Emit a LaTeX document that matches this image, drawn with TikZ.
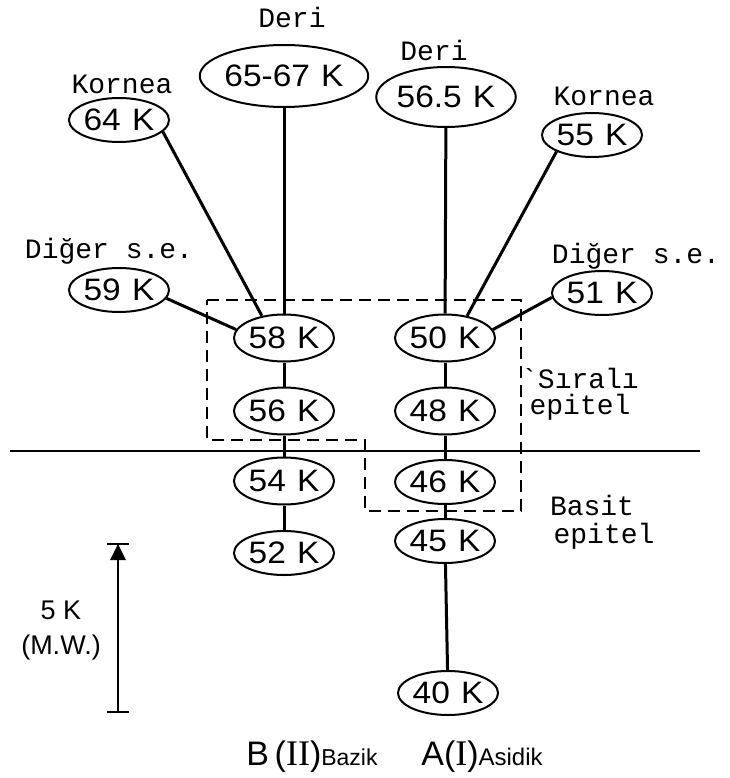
\documentclass[tikz,border=0pt]{standalone}
\usepackage{fontspec}
\setmainfont{Liberation Sans}
\newfontfamily\bandfont[FakeStretch=1.08, WordSpace=1.2]{Liberation Sans}
\newfontfamily\typefont{Liberation Mono}
\newfontfamily\romfont{Liberation Serif}
\usepackage{tikz}
\usetikzlibrary{positioning}
\usetikzlibrary{shapes.geometric, arrows.meta}
\tikzstyle{band} = [ellipse, draw=black, line width=2pt, inner sep=0pt, minimum width=96pt, minimum height=47pt, font=\bandfont\fontsize{31}{31}\selectfont]
\tikzstyle{side} = [band, minimum width=92pt, minimum height=44pt]
\tikzstyle{tissue} = [inner sep=1pt, font=\typefont\fontsize{28}{28}\selectfont]
\tikzstyle{link} = [line width=3pt]
\tikzstyle{region} = [line width=2.2pt, dash pattern=on 12pt off 7pt]
\tikzstyle{scalebar} = [line width=1.5pt, {Bar[width=22pt,line width=2.2pt]}-{Bar[width=22pt,line width=2.2pt]}]

\begin{document}
\begin{tikzpicture}[x=1pt, y=-1pt]
    \useasboundingbox (0,0) rectangle (729,778);
    % Nodes
    \node (n6567) [band, minimum width=134pt, minimum height=62pt] at (284,76) {65-67 K};
    \node (n565) [band, minimum width=114pt, minimum height=60pt] at (446,97) {56.5 K};
    \node (n64) [side] at (119,120) {64 K};
    \node (n55) [side, minimum width=88pt] at (592,135) {55 K};
    \node (n59) [side] at (119,290) {59 K};
    \node (n51) [side] at (602,293) {51 K};
    \node (n58) [band] at (284,338) {58 K};
    \node (n56) [band] at (284,411) {56 K};
    \node (n54) [band] at (284,481) {54 K};
    \node (n52) [band, minimum height=44pt] at (284,553) {52 K};
    \node (n50) [band] at (445,338) {50 K};
    \node (n48) [band] at (445,411) {48 K};
    \node (n46) [band, minimum height=44pt] at (445,482) {46 K};
    \node (n45) [band, minimum height=44pt] at (445,541) {45 K};
    \node (n40) [band, minimum width=92pt, minimum height=44pt] at (448,693) {40 K};
    % Tissue labels
    \node (deri1) [tissue, above=15pt of n6567, xshift=8pt] {Deri};
    \node (deri2) [tissue, above=4pt of n565, xshift=-12pt] {Deri};
    \node (kornea1) [tissue, above=2pt of n64, xshift=3pt] {Kornea};
    \node (kornea2) [tissue, above=5pt of n55, xshift=12pt] {Kornea};
    \node (diger1) [tissue, above=2pt of n59, xshift=-10pt] {Diğer s.e.};
    \node (diger2) [tissue, above=0pt of n51, xshift=34pt] {Diğer s.e.};
    \node (sirali) [tissue] at (580,378) {\textasciigrave Sıralı};
    \node (epitel1) [tissue, below=4pt of sirali] {epitel};
    \node (basit) [tissue] at (592,505) {Basit};
    \node (epitel2) [tissue, below=6pt of basit, xshift=12pt] {epitel};
    % Lines
    \draw [link] (n6567) -- (n58);
    \draw [link] (n64.-15) -- (n58.135);
    \draw [link] (n59.-10) -- (n58.170);
    \draw [link] (n58) -- (n56);
    \draw [link] (n56) -- (n54);
    \draw [link] (n54) -- (n52);
    \draw [link] (n565) -- (n50);
    \draw [link] (n55.205) -- (n50.45);
    \draw [link] (n51.185) -- (n50.10);
    \draw [link] (n50) -- (n48);
    \draw [link] (n48) -- (n46);
    \draw [link] (n46) -- (n45);
    \draw [link] (n45) -- (n40);
    % Boundary between the two epithelia
    \coordinate (ruleL) at (10,451);
    \coordinate (ruleR) at (700,451);
    \draw [line width=2.2pt] (ruleL) -- (ruleR);
    \draw [region] (207,300) -- (521,300) -- (521,511) -- (365,511) -- (365,440) -- (207,440) -- cycle;
    % Scale
    \coordinate (bartop) at (118,543);
    \coordinate (barbot) at (118,713);
    \draw [scalebar] (bartop) -- (barbot);
    \fill (bartop) ++(0,1) -- ++(-8,16) -- ++(16,0) -- cycle;
    \node (mw) [align=center, font=\fontsize{27}{35}\selectfont] at (61,630) {5 K\\(M.W.)};
    % Families
    \node (famB) [font=\fontsize{34}{34}\selectfont] at (312,757) {B\,({\romfont\fontsize{36}{36}\selectfont II})\fontsize{23}{23}\selectfont Bazik};
    \node (famA) [font=\fontsize{34}{34}\selectfont] at (482,757) {A({\romfont\fontsize{36}{36}\selectfont I})\fontsize{24}{24}\selectfont Asidik};
\end{tikzpicture}
\end{document}
